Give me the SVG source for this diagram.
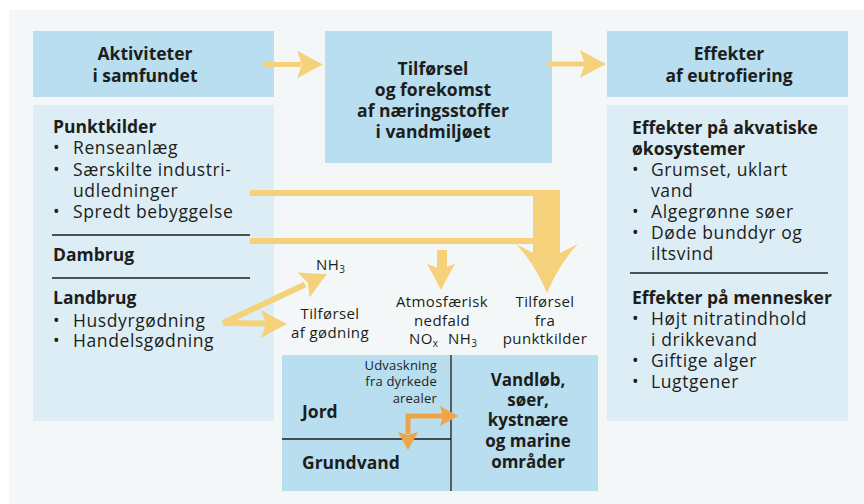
<svg xmlns="http://www.w3.org/2000/svg" width="864" height="504" viewBox="0 0 864 504">
<style>
  .bg{fill:#f3f7f7}
  .dk{fill:#b8def0}
  .lt{fill:#dcedf5}
  .b{font-family:"Open Sans","Noto Sans",sans-serif;font-weight:bold;font-size:17.5px;fill:#1d1d1b}
  .r{font-family:"Open Sans","Noto Sans",sans-serif;font-size:17.5px;letter-spacing:0.6px;fill:#1d1d1b}
  .s{font-family:"Open Sans","Noto Sans",sans-serif;font-size:15px;letter-spacing:0.4px;fill:#1d1d1b}
  .xs{font-family:"Open Sans","Noto Sans",sans-serif;font-size:13px;letter-spacing:0.2px;fill:#1d1d1b}
  .m{text-anchor:middle}
  .e{text-anchor:end}
  .rule{stroke:#1d1d1b;stroke-width:1.3;fill:none}
  .y{fill:#f5d17c}
  .ys{stroke:#f5d17c;stroke-width:6;fill:none}
  .o{fill:#efa546}
  .os{stroke:#efa546;stroke-width:5;fill:none}
</style>
<defs>
  <path id="head" d="M0,0 Q-12,-6 -26,-14 L-21,0 L-26,14 Q-12,6 0,0 Z"/>
  <path id="ohead" d="M0,0 L-18,-10 L-15,0 L-18,10 Z"/>
</defs>
<rect class="bg" x="9" y="10" width="855" height="494"/>

<g id="node-aktiviteter">
  <rect class="dk" x="33" y="31" width="241" height="66"/>
  <text class="b m" x="145" y="60">Aktiviteter</text>
  <text class="b m" x="145" y="82">i samfundet</text>
</g>
<g id="node-tilforsel">
  <rect class="dk" x="325" y="31" width="227" height="132"/>
  <text class="b m" x="433" y="75">Tilførsel</text>
  <text class="b m" x="433" y="96">og forekomst</text>
  <text class="b m" x="433" y="117">af næringsstoffer</text>
  <text class="b m" x="433" y="138">i vandmiljøet</text>
</g>
<g id="node-effekter">
  <rect class="dk" x="607" y="31" width="241" height="66"/>
  <text class="b m" x="729" y="60">Effekter</text>
  <text class="b m" x="729" y="82">af eutrofiering</text>
</g>
<g id="node-kilder">
  <rect class="lt" x="33" y="105" width="241" height="316"/>
  <text class="b" x="53" y="133">Punktkilder</text>
  <text class="r" x="53" y="154">•</text><text class="r" x="73" y="154">Renseanlæg</text>
  <text class="r" x="53" y="176">•</text><text class="r" x="73" y="176">Særskilte industri-</text>
  <text class="r" x="73" y="197">udledninger</text>
  <text class="r" x="53" y="218">•</text><text class="r" x="73" y="218">Spredt bebyggelse</text>
  <line class="rule" x1="52" y1="235" x2="250" y2="235"/>
  <text class="b" x="53" y="261">Dambrug</text>
  <line class="rule" x1="52" y1="278" x2="250" y2="278"/>
  <text class="b" x="53" y="304">Landbrug</text>
  <text class="r" x="53" y="327">•</text><text class="r" x="73" y="327">Husdyrgødning</text>
  <text class="r" x="53" y="347">•</text><text class="r" x="73" y="347">Handelsgødning</text>
</g>
<g id="node-virkninger">
  <rect class="lt" x="607" y="105" width="241" height="316"/>
  <text class="b" x="632" y="134">Effekter på akvatiske</text>
  <text class="b" x="632" y="155">økosystemer</text>
  <text class="r" x="632" y="176">•</text><text class="r" x="651" y="176">Grumset, uklart</text>
  <text class="r" x="651" y="197">vand</text>
  <text class="r" x="632" y="218">•</text><text class="r" x="651" y="218">Algegrønne søer</text>
  <text class="r" x="632" y="239">•</text><text class="r" x="651" y="239">Døde bunddyr og</text>
  <text class="r" x="651" y="260">iltsvind</text>
  <line class="rule" x1="630" y1="273" x2="828" y2="273"/>
  <text class="b" x="632" y="304">Effekter på mennesker</text>
  <text class="r" x="632" y="325">•</text><text class="r" x="651" y="325">Højt nitratindhold</text>
  <text class="r" x="651" y="346">i drikkevand</text>
  <text class="r" x="632" y="367">•</text><text class="r" x="651" y="367">Giftige alger</text>
  <text class="r" x="632" y="388">•</text><text class="r" x="651" y="388">Lugtgener</text>
</g>
<g id="node-miljo">
  <rect class="dk" x="282" y="355" width="316" height="136"/>
  <line class="rule" x1="451" y1="355" x2="451" y2="491"/>
  <line class="rule" x1="282" y1="439" x2="451" y2="439"/>
  <text class="b" x="302" y="418">Jord</text>
  <text class="b" x="302" y="469">Grundvand</text>
  <text class="xs e" x="437" y="370">Udvaskning</text>
  <text class="xs e" x="437" y="386">fra dyrkede</text>
  <text class="xs e" x="437" y="403">arealer</text>
  <text class="b m" x="528" y="386" style="font-size:17px">Vandløb,</text>
  <text class="b m" x="528" y="406" style="font-size:17px">søer,</text>
  <text class="b m" x="528" y="426" style="font-size:17px">kystnære</text>
  <text class="b m" x="528" y="447" style="font-size:17px">og marine</text>
  <text class="b m" x="528" y="468" style="font-size:17px">områder</text>
</g>
<g id="labels">
  <text class="s" x="316" y="270">NH<tspan font-size="10" dy="3">3</tspan></text>
  <text class="s m" x="330" y="319">Tilførsel</text>
  <text class="s m" x="330" y="338">af gødning</text>
  <text class="s m" x="442" y="307">Atmosfærisk</text>
  <text class="s m" x="442" y="326">nedfald</text>
  <text class="s" x="409" y="344">NO<tspan font-size="10" dy="3">x</tspan></text>
  <text class="s" x="448" y="344">NH<tspan font-size="10" dy="3">3</tspan></text>
  <text class="s m" x="545" y="307">Tilførsel</text>
  <text class="s m" x="545" y="326">fra</text>
  <text class="s m" x="545" y="344">punktkilder</text>
</g>
<g id="connectors">
  <rect class="y" x="263" y="62" width="38" height="5"/>
  <use href="#head" class="y" transform="translate(323,64.5)"/>
  <rect class="y" x="547" y="61.5" width="40" height="5"/>
  <use href="#head" class="y" transform="translate(606,64)"/>
  <rect class="y" x="250" y="190" width="310" height="6"/>
  <rect class="y" x="250" y="238" width="285" height="6"/>
  <rect class="y" x="533" y="190" width="27" height="66"/>
  <path class="y" d="M516,244 L533,253 L560,253 L578,244 Q559,264 547,293 Q535,264 516,244 Z"/>
  <rect class="y" x="437" y="250" width="10" height="20"/>
  <use href="#head" class="y" transform="translate(441,290) rotate(90)"/>
  <path class="ys" d="M223,323 L305,284.5"/>
  <use href="#head" class="y" transform="translate(327,274) rotate(-25.2)"/>
  <path class="ys" d="M223,323 L266,323.5"/>
  <use href="#head" class="y" transform="translate(287,324)"/>
  <path class="os" d="M408,434 L408,416 L443,416"/>
  <use href="#ohead" class="o" transform="translate(458,416)"/>
  <use href="#ohead" class="o" transform="translate(408,450) rotate(90)"/>
</g>
</svg>
